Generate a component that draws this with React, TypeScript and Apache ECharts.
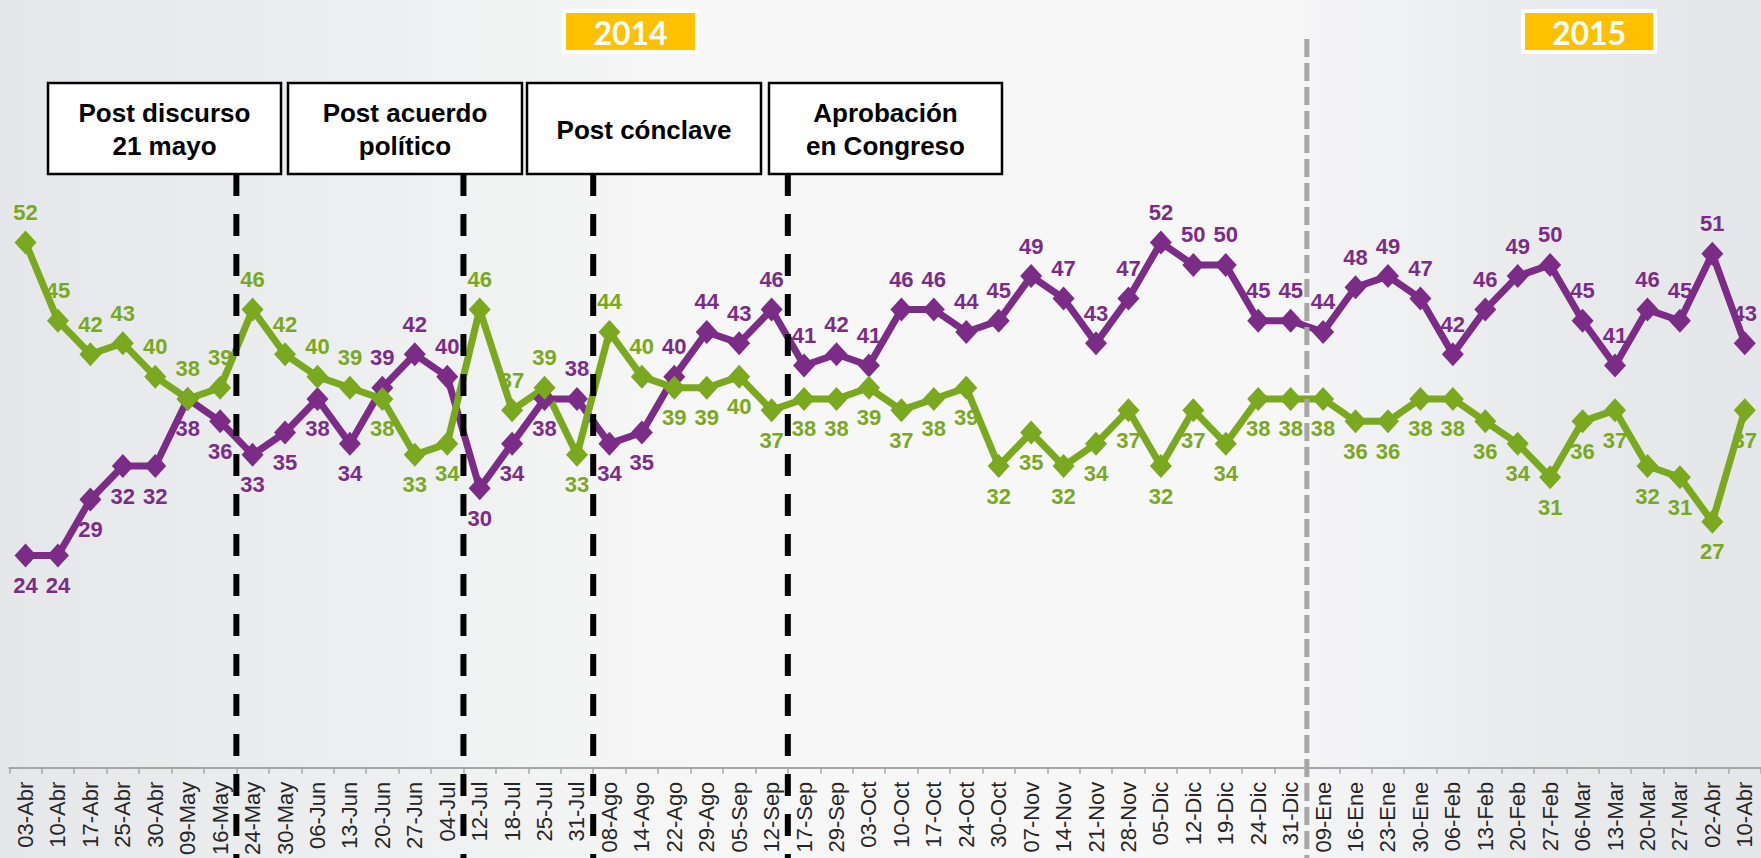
import React, { useEffect, useRef } from "react";
import * as echarts from "echarts";

const categories = [
  "03-Abr", "10-Abr", "17-Abr", "25-Abr", "30-Abr", "09-May", "16-May", "24-May", "30-May",
  "06-Jun", "13-Jun", "20-Jun", "27-Jun", "04-Jul", "12-Jul", "18-Jul", "25-Jul", "31-Jul",
  "08-Ago", "14-Ago", "22-Ago", "29-Ago", "05-Sep", "12-Sep", "17-Sep", "29-Sep", "03-Oct",
  "10-Oct", "17-Oct", "24-Oct", "30-Oct", "07-Nov", "14-Nov", "21-Nov", "28-Nov", "05-Dic",
  "12-Dic", "19-Dic", "24-Dic", "31-Dic", "09-Ene", "16-Ene", "23-Ene", "30-Ene", "06-Feb",
  "13-Feb", "20-Feb", "27-Feb", "06-Mar", "13-Mar", "20-Mar", "27-Mar", "02-Abr", "10-Abr",
];

const purpleValues = [
  24, 24, 29, 32, 32, 38, 36, 33, 35, 38, 34, 39, 42, 40, 30, 34, 38, 38,
  34, 35, 40, 44, 43, 46, 41, 42, 41, 46, 46, 44, 45, 49, 47, 43, 47, 52,
  50, 50, 45, 45, 44, 48, 49, 47, 42, 46, 49, 50, 45, 41, 46, 45, 51, 43,
];

const greenValues = [
  52, 45, 42, 43, 40, 38, 39, 46, 42, 40, 39, 38, 33, 34, 46, 37, 39, 33,
  44, 40, 39, 39, 40, 37, 38, 38, 39, 37, 38, 39, 32, 35, 32, 34, 37, 32,
  37, 34, 38, 38, 38, 36, 36, 38, 38, 36, 34, 31, 36, 37, 32, 31, 27, 37,
];

const eventTitles = ["Post discurso\n21 mayo", "Post acuerdo\npolítico", "Post cónclave", "Aprobación\nen Congreso"];
const eventStarts = ["24-May", "12-Jul", "08-Ago", "17-Sep"];
const yearBreak = "09-Ene";
const yearLabels = ["2014", "2015"];

const PURPLE = "#7B2C87";
const GREEN = "#7AA81E";
const FONT = "'Liberation Sans', Arial, sans-serif";

export default function App() {
  const ref = useRef<HTMLDivElement>(null);

  useEffect(() => {
    if (!ref.current) return;
    const chart = echarts.init(ref.current, null, { renderer: "svg" });

    const labelFor = (mine: number, other: number, isPurple: boolean) => {
      const above = isPurple ? mine > other : mine >= other;
      return { position: above ? "top" : "bottom" };
    };

    const purpleData = purpleValues.map((v, i) => ({ value: v, label: labelFor(v, greenValues[i], true) }));
    const greenData = greenValues.map((v, i) => ({ value: v, label: labelFor(v, purpleValues[i], false) }));

    const seriesCommon = {
      type: "line",
      symbol: "diamond",
      symbolSize: [22, 24],
      showAllSymbol: true,
      lineStyle: { width: 7 },
      label: {
        show: true,
        fontFamily: FONT,
        fontWeight: "bold",
        fontSize: 22,
        distance: 7,
      },
      emphasis: { disabled: true },
    };

    chart.setOption({
      animation: false,
      backgroundColor: new echarts.graphic.LinearGradient(0, 0, 1, 0, [
        { offset: 0, color: "#e6e7ea" },
        { offset: 0.22, color: "#eeeff0" },
        { offset: 0.4, color: "#f7f7f7" },
        { offset: 0.72, color: "#f7f7f8" },
        { offset: 0.86, color: "#eaebed" },
        { offset: 1, color: "#e5e6e9" },
      ]),
      grid: { left: 9.3, width: 1764, top: 41.5, height: 728 },
      xAxis: {
        type: "category",
        data: categories,
        boundaryGap: true,
        axisLine: { lineStyle: { color: "#a6a6a6", width: 2 } },
        axisTick: { show: true, interval: 0, length: 6, lineStyle: { color: "#a6a6a6", width: 1.5 } },
        axisLabel: {
          interval: 0,
          rotate: 90,
          margin: 14,
          fontFamily: FONT,
          fontSize: 22,
          color: "#262626",
        },
        splitLine: { show: false },
      },
      yAxis: {
        type: "value",
        min: 5,
        max: 70,
        show: false,
        splitLine: { show: false },
      },
      series: [
        {
          ...seriesCommon,
          name: "Purple",
          data: purpleData,
          itemStyle: { color: PURPLE },
          lineStyle: { width: 7, color: PURPLE },
          label: { ...seriesCommon.label, color: PURPLE },
        },
        {
          ...seriesCommon,
          name: "Green",
          data: greenData,
          itemStyle: { color: GREEN },
          lineStyle: { width: 7, color: GREEN },
          label: { ...seriesCommon.label, color: GREEN },
        },
      ],
    });

    const c0 = chart.convertToPixel({ xAxisIndex: 0 }, 0) as number;
    const c1 = chart.convertToPixel({ xAxisIndex: 0 }, 1) as number;
    const band = c1 - c0;
    const boundaryX = (name: string) =>
      (chart.convertToPixel({ xAxisIndex: 0 }, categories.indexOf(name)) as number) - band / 2;

    const boxes = [
      { x: 48, w: 233 },
      { x: 288, w: 234 },
      { x: 527, w: 234 },
      { x: 769, w: 233 },
    ];
    const boxTop = 83;
    const boxH = 91;

    const graphics: any[] = [];
    eventStarts.forEach((name) => {
      const x = boundaryX(name);
      graphics.push({
        type: "line",
        shape: { x1: x, y1: boxTop + boxH, x2: x, y2: 858 },
        style: { stroke: "#000", lineWidth: 6, lineDash: [22, 18] },
        z: 5,
      });
    });
    const gx = boundaryX(yearBreak);
    graphics.push({
      type: "line",
      shape: { x1: gx, y1: 39, x2: gx, y2: 858 },
      style: { stroke: "#a6a6a6", lineWidth: 5, lineDash: [18, 6] },
      z: 5,
    });
    boxes.forEach((b, i) => {
      graphics.push({
        type: "rect",
        shape: { x: b.x, y: boxTop, width: b.w, height: boxH },
        style: { fill: "#ffffff", stroke: "#000000", lineWidth: 2.5 },
        z: 6,
      });
      graphics.push({
        type: "text",
        x: b.x + b.w / 2,
        y: boxTop + boxH / 2 + 1,
        style: {
          text: eventTitles[i],
          fill: "#000",
          font: `bold 26px ${FONT}`,
          lineHeight: 33,
          align: "center",
          verticalAlign: "middle",
        },
        z: 7,
      });
    });
    const yearBoxes = [
      { x: 564, w: 133 },
      { x: 1523, w: 132 },
    ];
    yearBoxes.forEach((b, i) => {
      graphics.push({
        type: "rect",
        shape: { x: b.x, y: 11, width: b.w, height: 41 },
        style: { fill: "#FFC000", stroke: "#ffffff", lineWidth: 4 },
        z: 6,
      });
      graphics.push({
        type: "text",
        x: b.x + b.w / 2,
        y: 32,
        style: {
          text: yearLabels[i],
          fill: "#ffffff",
          font: "bold 32px Lato, 'Open Sans', sans-serif",
          align: "center",
          verticalAlign: "middle",
        },
        z: 7,
      });
    });

    chart.setOption({ graphic: graphics });

    return () => chart.dispose();
  }, []);

  return (
    <div
      ref={ref}
      style={{ position: "fixed", left: 0, top: 0, width: 1761, height: 858 }}
    />
  );
}
